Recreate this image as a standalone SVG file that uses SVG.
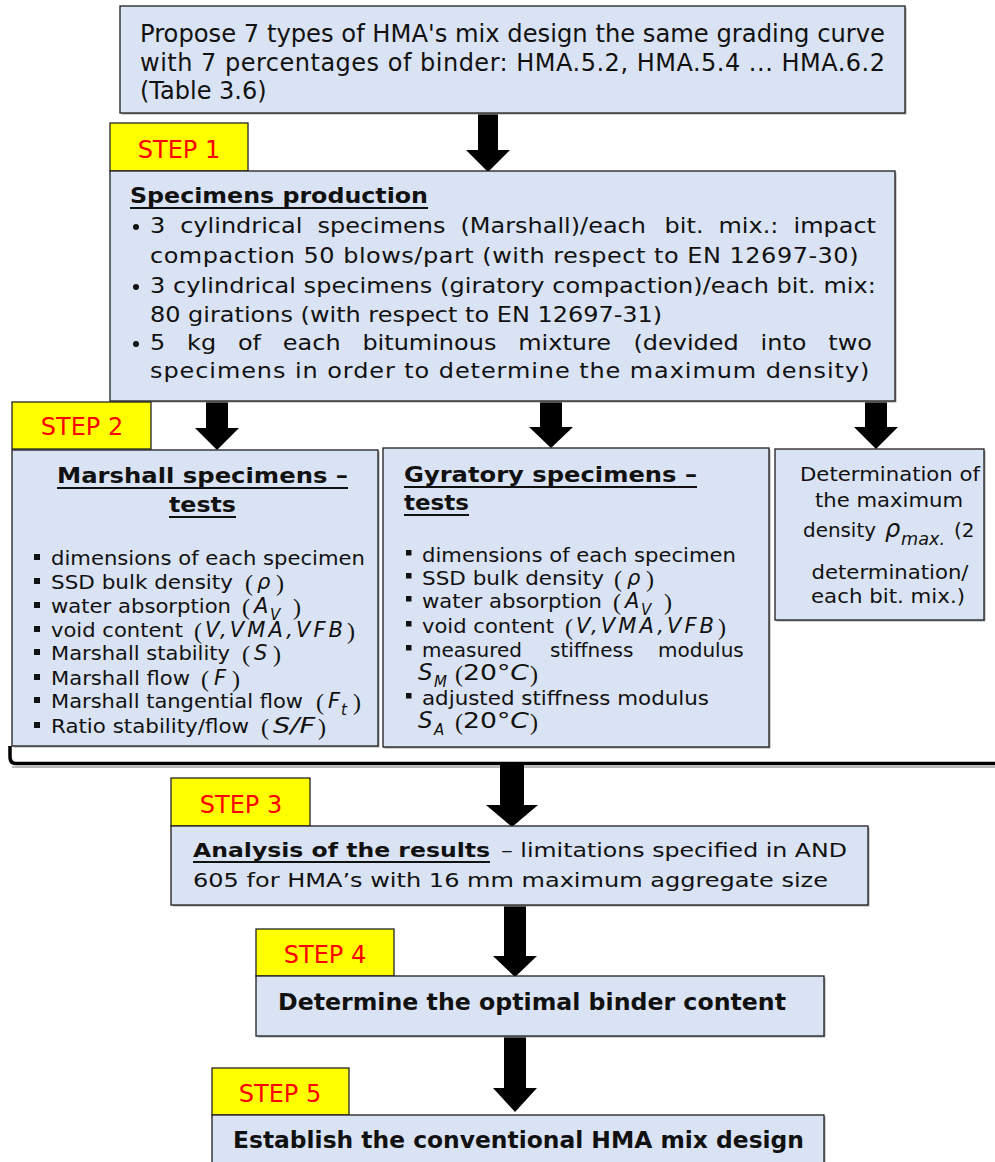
<svg xmlns="http://www.w3.org/2000/svg" width="995" height="1162" viewBox="0 0 995 1162">
<style>
.box{fill:#dae3f3;stroke:#1e1e1e;stroke-width:1.3}
.sh{fill:#a6a6a6}
.lab{fill:#ffff00;stroke:#262626;stroke-width:1.3}
.labt{font-family:"DejaVu Sans",Verdana,sans-serif;font-size:24px;fill:#ff0000;text-anchor:middle}
.t{font-family:"DejaVu Sans",Verdana,sans-serif;fill:#111}
.b{font-weight:bold}
.i{font-style:italic}
.par{font-family:"Liberation Serif","Times New Roman",serif;font-size:24px;fill:#111}
.ul{stroke:#111;stroke-width:2}
.arr{fill:#000}
.sq{fill:#111}
.f20{font-size:20px}
.f21{font-size:21px}
.f22{font-size:22px}
.f15{font-size:15px}
</style>
<rect width="995" height="1162" fill="#ffffff"/>

<g id="connectors">
  <polygon class="arr" points="478,113 498,113 498,150 510,150 488,172 466,150 478,150"/>
  <polygon class="arr" points="206,401 228,401 228,428 239,428 217,450 195,428 206,428"/>
  <polygon class="arr" points="540,401 562,401 562,427 573,427 551,448 529,427 540,427"/>
  <polygon class="arr" points="865,401 887,401 887,427 898,427 876,449 854,427 865,427"/>
  <path d="M12,767 L995,767" stroke="#a0a0a0" stroke-width="1.5" fill="none"/>
  <path d="M10,746 L10,757 Q10,763.5 16,763.5 L995,763.5" fill="none" stroke="#000" stroke-width="3.5"/>
  <polygon class="arr" points="500,765 524,765 524,805 538,805 512,827 486,805 500,805"/>
  <polygon class="arr" points="504,905 526,905 526,956 537,956 515,977 493,956 504,956"/>
  <polygon class="arr" points="504,1036 526,1036 526,1088 537,1088 515,1112 493,1088 504,1088"/>
</g>

<g id="n-propose">
  <rect class="sh" x="121.5" y="7.5" width="785" height="107"/>
  <rect class="box" x="120" y="6" width="785" height="107"/>
  <text class="t" x="140" y="42" font-size="24" textLength="745" lengthAdjust="spacingAndGlyphs">Propose 7 types of HMA's mix design the same grading curve</text>
  <text class="t" x="140" y="71" font-size="24" textLength="745" lengthAdjust="spacing">with 7 percentages of binder: HMA.5.2, HMA.5.4 ... HMA.6.2</text>
  <text class="t" x="140" y="99" font-size="24">(Table 3.6)</text>
</g>

<g id="step1-label">
  <rect class="lab" x="110" y="123" width="138" height="48"/>
  <text class="labt" x="179" y="158">STEP 1</text>
</g>

<g id="n-specimens">
  <rect class="sh" x="111.5" y="172.5" width="785" height="230"/>
  <rect class="box" x="110" y="171" width="785" height="230"/>
  <text class="t b f21" x="130" y="203" textLength="298" lengthAdjust="spacingAndGlyphs">Specimens production</text>
  <line class="ul" x1="130" y1="208" x2="428" y2="208"/>
  <circle class="sq" cx="136" cy="227" r="3"/>
  <circle class="sq" cx="136" cy="287" r="3"/>
  <circle class="sq" cx="136" cy="344" r="3"/>
  <g transform="scale(1.09 1)">
    <text class="t f22" y="233"><tspan x="137.61">3</tspan><tspan x="165.37">cylindrical</tspan><tspan x="291.23">specimens</tspan><tspan x="422.49">(Marshall)/each</tspan><tspan x="609.75">bit.</tspan><tspan x="659.21">mix.:</tspan><tspan x="727.97">impact</tspan></text>
    <text class="t f22" x="137.61" y="263" textLength="650" lengthAdjust="spacing">compaction 50 blows/part (with respect to EN 12697-30)</text>
    <text class="t f22" x="137.61" y="293" textLength="666" lengthAdjust="spacing">3 cylindrical specimens (giratory compaction)/each bit. mix:</text>
    <text class="t f22" x="137.61" y="322">80 girations (with respect to EN 12697-31)</text>
    <text class="t f22" y="350"><tspan x="137.61">5</tspan><tspan x="171.59">kg</tspan><tspan x="218.27">of</tspan><tspan x="259.45">each</tspan><tspan x="332.49">bituminous</tspan><tspan x="475.47">mixture</tspan><tspan x="581.16">(devided</tspan><tspan x="697.82">into</tspan><tspan x="759.94">two</tspan></text>
    <text class="t f22" x="137.61" y="378" textLength="660" lengthAdjust="spacing">specimens in order to determine the maximum density)</text>
  </g>
</g>

<g id="step2-label">
  <rect class="lab" x="12" y="402" width="139" height="47"/>
  <text class="labt" x="82" y="435">STEP 2</text>
</g>

<g id="n-marshall">
  <rect class="sh" x="13.5" y="451.5" width="366" height="296"/>
  <rect class="box" x="12" y="450" width="366" height="296"/>
  <text class="t b" font-size="22" x="57" y="483" textLength="291" lengthAdjust="spacingAndGlyphs">Marshall specimens –</text>
  <line class="ul" x1="57" y1="488" x2="348" y2="488"/>
  <text class="t b" font-size="22" x="169" y="512" textLength="67" lengthAdjust="spacingAndGlyphs">tests</text>
  <line class="ul" x1="169" y1="517" x2="236" y2="517"/>
  <rect class="sq" x="34" y="554" width="6" height="6"/>
  <rect class="sq" x="34" y="578" width="6" height="6"/>
  <rect class="sq" x="34" y="602" width="6" height="6"/>
  <rect class="sq" x="34" y="626" width="6" height="6"/>
  <rect class="sq" x="34" y="649" width="6" height="6"/>
  <rect class="sq" x="34" y="674" width="6" height="6"/>
  <rect class="sq" x="34" y="697" width="6" height="6"/>
  <rect class="sq" x="34" y="722" width="6" height="6"/>
  <text class="t f20" x="51" y="565" textLength="314" lengthAdjust="spacingAndGlyphs">dimensions of each specimen</text>
  <text class="t f20" x="51" y="589" textLength="182" lengthAdjust="spacingAndGlyphs">SSD bulk density</text>
  <text class="par" x="245" y="591">(</text><text class="t i f21" x="257" y="589">ρ</text><text class="par" x="276" y="591">)</text>
  <text class="t f20" x="51" y="613" textLength="180" lengthAdjust="spacingAndGlyphs">water absorption</text>
  <text class="par" x="242" y="615">(</text><text class="t i f21" x="254" y="613">A</text><text class="t i f15" x="270" y="620">V</text><text class="par" x="293" y="615">)</text>
  <text class="t f20" x="51" y="637" textLength="132" lengthAdjust="spacingAndGlyphs">void content</text>
  <text class="par" x="194" y="639">(</text><text class="t i f21" x="205" y="637" textLength="138" lengthAdjust="spacing">V,VMA,VFB</text><text class="par" x="347" y="639">)</text>
  <text class="t f20" x="51" y="660" textLength="179" lengthAdjust="spacingAndGlyphs">Marshall stability</text>
  <text class="par" x="242" y="662">(</text><text class="t i f21" x="254" y="660">S</text><text class="par" x="273" y="662">)</text>
  <text class="t f20" x="51" y="685" textLength="139" lengthAdjust="spacingAndGlyphs">Marshall flow</text>
  <text class="par" x="201" y="687">(</text><text class="t i f21" x="214" y="685">F</text><text class="par" x="232" y="687">)</text>
  <text class="t f20" x="51" y="708" textLength="252" lengthAdjust="spacingAndGlyphs">Marshall tangential flow</text>
  <text class="par" x="316" y="710">(</text><text class="t i f21" x="328" y="708">F</text><text class="t i f15" x="341" y="715">t</text><text class="par" x="353" y="710">)</text>
  <text class="t f20" x="51" y="733" textLength="198" lengthAdjust="spacingAndGlyphs">Ratio stability/flow</text>
  <text class="par" x="261" y="735">(</text><text class="t i f21" x="273" y="733" textLength="42" lengthAdjust="spacingAndGlyphs">S/F</text><text class="par" x="318" y="735">)</text>
</g>

<g id="n-gyratory">
  <rect class="sh" x="384.5" y="449.5" width="386" height="299"/>
  <rect class="box" x="383" y="448" width="386" height="299"/>
  <text class="t b" font-size="22" x="404" y="482" textLength="293" lengthAdjust="spacingAndGlyphs">Gyratory specimens –</text>
  <line class="ul" x1="404" y1="487" x2="697" y2="487"/>
  <text class="t b" font-size="22" x="404" y="510" textLength="65" lengthAdjust="spacingAndGlyphs">tests</text>
  <line class="ul" x1="404" y1="515" x2="469" y2="515"/>
  <rect class="sq" x="406" y="550" width="5.5" height="5.5"/>
  <rect class="sq" x="406" y="573" width="5.5" height="5.5"/>
  <rect class="sq" x="406" y="596" width="5.5" height="5.5"/>
  <rect class="sq" x="406" y="621" width="5.5" height="5.5"/>
  <rect class="sq" x="406" y="645" width="5.5" height="5.5"/>
  <rect class="sq" x="406" y="693" width="5.5" height="5.5"/>
  <text class="t f20" x="422" y="562" textLength="314" lengthAdjust="spacingAndGlyphs">dimensions of each specimen</text>
  <text class="t f20" x="422" y="585" textLength="182" lengthAdjust="spacingAndGlyphs">SSD bulk density</text>
  <text class="par" x="614" y="587">(</text><text class="t i f21" x="627" y="585">ρ</text><text class="par" x="646" y="587">)</text>
  <text class="t f20" x="422" y="608" textLength="180" lengthAdjust="spacingAndGlyphs">water absorption</text>
  <text class="par" x="613" y="610">(</text><text class="t i f21" x="625" y="608">A</text><text class="t i f15" x="641" y="615">V</text><text class="par" x="664" y="610">)</text>
  <text class="t f20" x="422" y="633" textLength="132" lengthAdjust="spacingAndGlyphs">void content</text>
  <text class="par" x="565" y="635">(</text><text class="t i f21" x="576" y="633" textLength="138" lengthAdjust="spacing">V,VMA,VFB</text><text class="par" x="718" y="635">)</text>
  <text class="t f20" y="657"><tspan x="422">measured</tspan><tspan x="550">stiffness</tspan><tspan x="658">modulus</tspan></text>
  <text class="t i" font-size="23" x="418" y="680">S</text><text class="t i f15" x="434" y="687">M</text>
  <text class="par" x="455" y="682">(</text><text class="t" font-size="22" x="463" y="680" textLength="66" lengthAdjust="spacingAndGlyphs">20°<tspan class="i">C</tspan></text><text class="par" x="530" y="682">)</text>
  <text class="t f20" x="422" y="705" textLength="287" lengthAdjust="spacingAndGlyphs">adjusted stiffness modulus</text>
  <text class="t i" font-size="23" x="418" y="728">S</text><text class="t i f15" x="434" y="735">A</text>
  <text class="par" x="455" y="730">(</text><text class="t" font-size="22" x="463" y="728" textLength="66" lengthAdjust="spacingAndGlyphs">20°<tspan class="i">C</tspan></text><text class="par" x="530" y="730">)</text>
</g>

<g id="n-maxdensity">
  <rect class="sh" x="776.5" y="450.5" width="209" height="171"/>
  <rect class="box" x="775" y="449" width="209" height="171"/>
  <text class="t f20" x="890" y="481" text-anchor="middle" textLength="180" lengthAdjust="spacingAndGlyphs">Determination of</text>
  <text class="t f20" x="889" y="507" text-anchor="middle" textLength="148" lengthAdjust="spacingAndGlyphs">the maximum</text>
  <text class="t f20" x="803" y="537" textLength="73" lengthAdjust="spacingAndGlyphs">density</text>
  <text class="t i" font-size="24" x="885" y="537">ρ</text>
  <text class="t i" font-size="18" x="901" y="545" textLength="44" lengthAdjust="spacingAndGlyphs">max.</text>
  <text class="t f20" x="954" y="537">(2</text>
  <text class="t f20" x="890" y="579" text-anchor="middle" textLength="157" lengthAdjust="spacingAndGlyphs">determination/</text>
  <text class="t f20" x="888" y="603" text-anchor="middle" textLength="154" lengthAdjust="spacingAndGlyphs">each bit. mix.)</text>
</g>

<g id="step3-label">
  <rect class="lab" x="171" y="778" width="139" height="48"/>
  <text class="labt" x="241" y="813">STEP 3</text>
</g>

<g id="n-analysis">
  <rect class="sh" x="172.5" y="827.5" width="697" height="79"/>
  <rect class="box" x="171" y="826" width="697" height="79"/>
  <text class="t b f20" x="193" y="857" textLength="297" lengthAdjust="spacingAndGlyphs">Analysis of the results</text>
  <line class="ul" x1="193" y1="862" x2="490" y2="862"/>
  <text class="t f20" x="501" y="857" textLength="346" lengthAdjust="spacingAndGlyphs">– limitations specified in AND</text>
  <text class="t f20" x="193" y="887" textLength="635" lengthAdjust="spacingAndGlyphs">605 for HMA’s with 16 mm maximum aggregate size</text>
</g>

<g id="step4-label">
  <rect class="lab" x="256" y="929" width="138" height="47"/>
  <text class="labt" x="325" y="963">STEP 4</text>
</g>

<g id="n-optimal">
  <rect class="sh" x="257.5" y="977.5" width="568" height="60"/>
  <rect class="box" x="256" y="976" width="568" height="60"/>
  <text class="t b" font-size="23" x="278" y="1010" textLength="508" lengthAdjust="spacingAndGlyphs">Determine the optimal binder content</text>
</g>

<g id="step5-label">
  <rect class="lab" x="212" y="1068" width="137" height="47"/>
  <text class="labt" x="280" y="1102">STEP 5</text>
</g>

<g id="n-establish">
  <rect class="sh" x="213.5" y="1116.5" width="612" height="60"/>
  <rect class="box" x="212" y="1115" width="612" height="60"/>
  <text class="t b" font-size="23" x="233" y="1148" textLength="571" lengthAdjust="spacingAndGlyphs">Establish the conventional HMA mix design</text>
</g>
</svg>
